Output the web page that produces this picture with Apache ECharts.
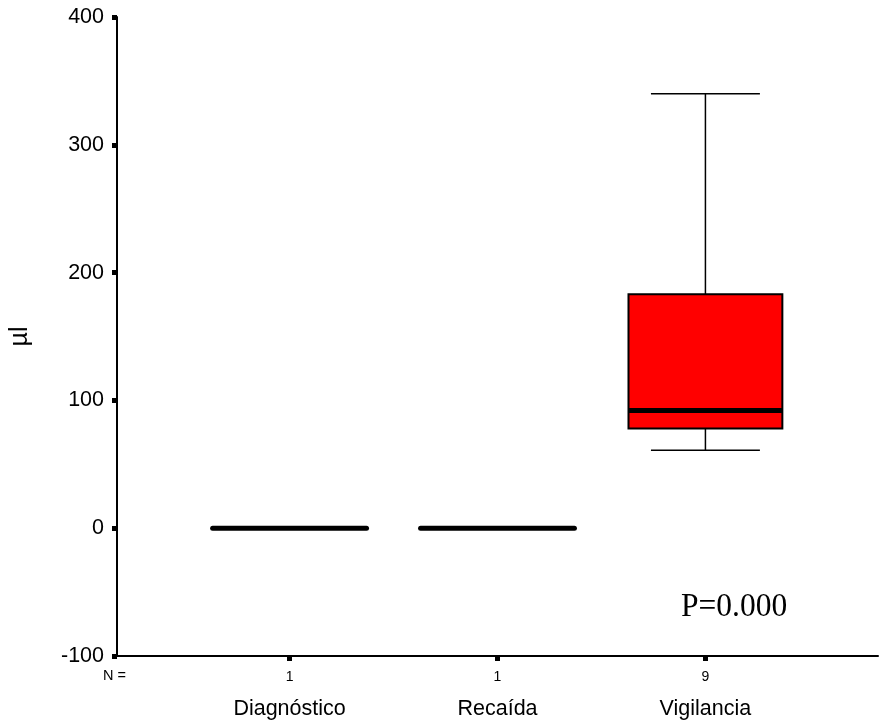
<!DOCTYPE html>
<html>
<head>
<meta charset="utf-8">
<script src="https://cdn.jsdelivr.net/npm/echarts@6/dist/echarts.min.js"></script>
<style>html,body{margin:0;padding:0;background:#fff;}#c{width:882px;height:725px;}</style>
</head>
<body>
<div id="c"></div>
<script>
var categories = ['Diagnóstico', 'Recaída', 'Vigilancia'];
var positions = [1, 2, 3];
var nCounts = [1, 1, 9];
var mins = [0, 0, 61];
var q1s = [0, 0, 78];
var medians = [0, 0, 92];
var q3s = [0, 0, 183];
var maxs = [0, 0, 340];
var yTicks = [-100, 0, 100, 200, 300, 400];

var seriesData = positions.map(function (p, i) {
  return [p, mins[i], q1s[i], medians[i], q3s[i], maxs[i]];
});

var BOX_HALF = 0.37;
var CAP_HALF = 0.262;
var SANS = 'Liberation Sans, Arial, sans-serif';

var chart = echarts.init(document.getElementById('c'));
chart.setOption({
  animation: false,
  backgroundColor: '#ffffff',
  grid: { left: 115, right: 4, top: 17, bottom: 69 },
  xAxis: {
    type: 'value',
    min: 0.17,
    max: 3.83,
    splitLine: { show: false },
    axisLine: { show: true, onZero: false, lineStyle: { color: '#000', width: 2 } },
    axisTick: { show: true, customValues: positions, length: 5, lineStyle: { color: '#000', width: 5 } },
    axisLabel: {
      customValues: positions,
      margin: 8,
      formatter: function (v) {
        var i = positions.indexOf(Math.round(v));
        if (i < 0) return '';
        return '{n|' + nCounts[i] + '}\n{c|' + categories[i] + '}';
      },
      rich: {
        n: { fontSize: 14, lineHeight: 26, color: '#000', fontFamily: SANS },
        c: { fontSize: 21.5, lineHeight: 38, color: '#000', fontFamily: SANS }
      }
    }
  },
  yAxis: {
    type: 'value',
    min: -100,
    max: 400,
    interval: 100,
    name: 'µl',
    nameLocation: 'middle',
    nameRotate: 90,
    nameGap: 84,
    nameTextStyle: { fontSize: 25, color: '#000', fontFamily: SANS },
    splitLine: { show: false },
    axisLine: { show: true, lineStyle: { color: '#000', width: 2 } },
    axisTick: { show: true, length: 5, lineStyle: { color: '#000', width: 5 } },
    axisLabel: {
      margin: 13,
      fontSize: 21.5,
      color: '#000',
      fontFamily: SANS,
      formatter: function (v) { return yTicks.indexOf(v) >= 0 ? String(v) : ''; }
    }
  },
  graphic: [
    {
      type: 'text',
      left: 103,
      top: 668,
      style: { text: 'N =', fontSize: 14.5, fill: '#000', fontFamily: SANS }
    },
    {
      type: 'text',
      x: 681,
      y: 607,
      scaleY: 1.06,
      style: { text: 'P=0.000', fontSize: 31.5, fill: '#000', fontFamily: 'Liberation Serif, Times New Roman, serif', textVerticalAlign: 'middle' }
    }
  ],
  series: [{
    type: 'custom',
    data: seriesData,
    encode: { x: 0, y: [1, 2, 3, 4, 5] },
    renderItem: function (params, api) {
      var x = api.value(0);
      var pMin = api.coord([x, api.value(1)]);
      var pQ1 = api.coord([x, api.value(2)]);
      var pMed = api.coord([x, api.value(3)]);
      var pQ3 = api.coord([x, api.value(4)]);
      var pMax = api.coord([x, api.value(5)]);
      var bl = api.coord([x - BOX_HALF, 0])[0];
      var br = api.coord([x + BOX_HALF, 0])[0];
      var cl = api.coord([x - CAP_HALF, 0])[0];
      var cr = api.coord([x + CAP_HALF, 0])[0];
      var cx = pMed[0];
      var children = [];
      var thin = { stroke: '#000', lineWidth: 1.5 };
      if (pMax[1] !== pQ3[1]) {
        children.push({ type: 'line', shape: { x1: cx, y1: pQ3[1], x2: cx, y2: pMax[1] }, style: thin });
        children.push({ type: 'line', shape: { x1: cl, y1: pMax[1], x2: cr, y2: pMax[1] }, style: thin });
      }
      if (pMin[1] !== pQ1[1]) {
        children.push({ type: 'line', shape: { x1: cx, y1: pQ1[1], x2: cx, y2: pMin[1] }, style: thin });
        children.push({ type: 'line', shape: { x1: cl, y1: pMin[1], x2: cr, y2: pMin[1] }, style: thin });
      }
      var h = pQ1[1] - pQ3[1];
      if (h > 0) {
        children.push({ type: 'rect', shape: { x: bl, y: pQ3[1], width: br - bl, height: h }, style: { fill: '#ff0000', stroke: '#000', lineWidth: 2 } });
      }
      children.push({ type: 'line', shape: { x1: bl, y1: pMed[1], x2: br, y2: pMed[1] }, style: { stroke: '#000', lineWidth: 5, lineCap: h > 0 ? 'butt' : 'round' } });
      return { type: 'group', children: children };
    }
  }]
});
</script>
</body>
</html>
